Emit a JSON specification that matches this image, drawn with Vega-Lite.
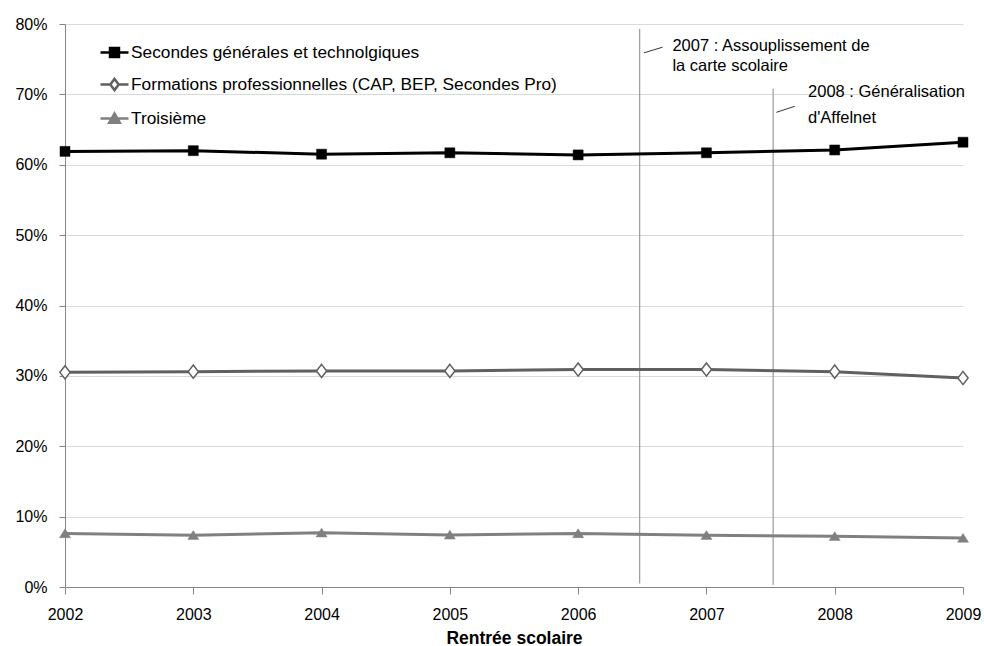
{
  "$schema": "https://vega.github.io/schema/vega-lite/v6.json",
  "width": 898,
  "height": 563,
  "autosize": "none",
  "padding": {"left": 65, "top": 24, "right": 21, "bottom": 59},
  "background": "white",
  "config": {
    "view": {"stroke": null},
    "font": "Liberation Sans",
    "axis": {"labelFont": "Liberation Sans", "labelColor": "#000000", "titleColor": "#000000", "domainColor": "#868686", "tickColor": "#868686", "gridColor": "#d9d9d9", "labelFontSize": 16}
  },
  "datasets": {
    "series": [
      {"year": 2002, "value": 0.619, "series": "Secondes générales et technolgiques"},
      {"year": 2003, "value": 0.620, "series": "Secondes générales et technolgiques"},
      {"year": 2004, "value": 0.615, "series": "Secondes générales et technolgiques"},
      {"year": 2005, "value": 0.617, "series": "Secondes générales et technolgiques"},
      {"year": 2006, "value": 0.614, "series": "Secondes générales et technolgiques"},
      {"year": 2007, "value": 0.617, "series": "Secondes générales et technolgiques"},
      {"year": 2008, "value": 0.621, "series": "Secondes générales et technolgiques"},
      {"year": 2009, "value": 0.632, "series": "Secondes générales et technolgiques"},
      {"year": 2002, "value": 0.305, "series": "Formations professionnelles  (CAP, BEP, Secondes Pro)"},
      {"year": 2003, "value": 0.306, "series": "Formations professionnelles  (CAP, BEP, Secondes Pro)"},
      {"year": 2004, "value": 0.307, "series": "Formations professionnelles  (CAP, BEP, Secondes Pro)"},
      {"year": 2005, "value": 0.307, "series": "Formations professionnelles  (CAP, BEP, Secondes Pro)"},
      {"year": 2006, "value": 0.309, "series": "Formations professionnelles  (CAP, BEP, Secondes Pro)"},
      {"year": 2007, "value": 0.309, "series": "Formations professionnelles  (CAP, BEP, Secondes Pro)"},
      {"year": 2008, "value": 0.306, "series": "Formations professionnelles  (CAP, BEP, Secondes Pro)"},
      {"year": 2009, "value": 0.297, "series": "Formations professionnelles  (CAP, BEP, Secondes Pro)"},
      {"year": 2002, "value": 0.076, "series": "Troisième"},
      {"year": 2003, "value": 0.0735, "series": "Troisième"},
      {"year": 2004, "value": 0.077, "series": "Troisième"},
      {"year": 2005, "value": 0.074, "series": "Troisième"},
      {"year": 2006, "value": 0.076, "series": "Troisième"},
      {"year": 2007, "value": 0.0735, "series": "Troisième"},
      {"year": 2008, "value": 0.072, "series": "Troisième"},
      {"year": 2009, "value": 0.0695, "series": "Troisième"}
    ],
    "events": [
      {"year": 2006.48, "value": 0.005, "value2": 0.793},
      {"year": 2007.52, "value": 0.003, "value2": 0.708}
    ],
    "leaders": [
      {"year": 2006.513, "value": 0.759, "year2": 2006.657, "value2": 0.767},
      {"year": 2007.545, "value": 0.6745, "year2": 2007.688, "value2": 0.683}
    ],
    "notes": [
      {"year": 2006.735, "value": 0.769, "text": "2007 : Assouplissement de"},
      {"year": 2006.735, "value": 0.740, "text": "la carte scolaire"},
      {"year": 2007.792, "value": 0.704, "text": "2008 : Généralisation"},
      {"year": 2007.792, "value": 0.6665, "text": "d'Affelnet"}
    ]
  },
  "encoding": {
    "x": {
      "field": "year", "type": "quantitative",
      "scale": {"domain": [2002, 2009], "nice": false, "zero": false},
      "axis": {"values": [2002, 2003, 2004, 2005, 2006, 2007, 2008, 2009], "format": "d", "title": "Rentrée scolaire", "grid": false, "tickSize": 7, "labelPadding": 12, "titleFontSize": 17.5, "titleFontWeight": "bold", "titlePadding": 7, "labelFlush": false}
    },
    "y": {
      "field": "value", "type": "quantitative",
      "scale": {"domain": [0, 0.8], "nice": false},
      "axis": {"values": [0, 0.1, 0.2, 0.3, 0.4, 0.5, 0.6, 0.7, 0.8], "format": ".0%", "title": null, "grid": true, "tickSize": 6, "labelPadding": 12}
    }
  },
  "layer": [
    {
      "data": {"name": "events"},
      "mark": {"type": "rule", "color": "#868686", "strokeWidth": 1},
      "encoding": {"y2": {"field": "value2"}}
    },
    {
      "data": {"name": "leaders"},
      "mark": {"type": "rule", "color": "#000000", "strokeWidth": 0.8},
      "encoding": {"x2": {"field": "year2"}, "y2": {"field": "value2"}}
    },
    {
      "data": {"name": "series"},
      "mark": {"type": "line", "strokeWidth": 3},
      "encoding": {
        "color": {
          "field": "series", "type": "nominal",
          "scale": {"domain": ["Secondes générales et technolgiques", "Formations professionnelles  (CAP, BEP, Secondes Pro)", "Troisième"], "range": ["#000000", "#606060", "#808080"]},
          "legend": {
            "orient": "none", "legendX": 34, "legendY": 13, "title": null,
            "labelFontSize": 17.3, "labelFont": "Liberation Sans", "labelColor": "#000000", "labelLimit": 800,
            "symbolSize": 784, "rowPadding": 7, "labelOffset": 1,
            "encode": {
              "symbols": {
                "update": {
                  "shape": {"signal": "datum.value === 'Troisième' ? 'M-1,0H1M0,-0.36L0.38,0.3H-0.38Z' : (datum.value === 'Secondes générales et technolgiques' ? 'M-1,0H1M-0.32,-0.32H0.32V0.32H-0.32Z' : 'M-1,0H-0.3M0.3,0H1M0,-0.4L0.3,0L0,0.4L-0.3,0Z')"},
                  "fill": {"signal": "datum.value === 'Troisième' ? '#808080' : (datum.value === 'Secondes générales et technolgiques' ? '#000000' : '#ffffff')"},
                  "stroke": {"signal": "datum.value === 'Troisième' ? '#808080' : (datum.value === 'Secondes générales et technolgiques' ? '#000000' : '#606060')"},
                  "strokeWidth": {"value": 2.5},
                  "opacity": {"value": 1}
                }
              }
            }
          }
        }
      }
    },
    {
      "data": {"name": "series"},
      "transform": [{"filter": "datum.series === 'Secondes générales et technolgiques'"}],
      "mark": {"type": "point", "shape": "square", "filled": true, "fill": "#000000", "stroke": "#000000", "strokeWidth": 0.5, "opacity": 1, "size": 100}
    },
    {
      "data": {"name": "series"},
      "transform": [{"filter": "datum.series !== 'Secondes générales et technolgiques' && datum.series !== 'Troisième'"}],
      "mark": {"type": "point", "shape": "M0,-1.1L0.85,0L0,1.1L-0.85,0Z", "filled": false, "fill": "#ffffff", "fillOpacity": 1, "stroke": "#606060", "strokeWidth": 1.5, "opacity": 1, "size": 144}
    },
    {
      "data": {"name": "series"},
      "transform": [{"filter": "datum.series === 'Troisième'"}],
      "mark": {"type": "point", "shape": "M0,-0.85L1,0.75H-1Z", "filled": true, "fill": "#808080", "stroke": "#808080", "strokeWidth": 0.5, "opacity": 1, "size": 121}
    },
    {
      "data": {"name": "notes"},
      "mark": {"type": "text", "align": "left", "baseline": "middle", "fontSize": 16.5, "font": "Liberation Sans", "color": "#000000"},
      "encoding": {"text": {"field": "text"}}
    }
  ]
}
